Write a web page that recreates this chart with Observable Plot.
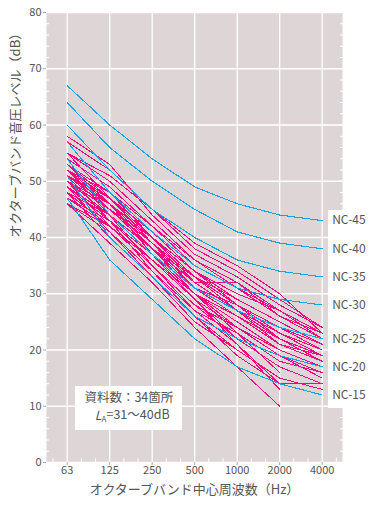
<!DOCTYPE html>
<html><head><meta charset="utf-8">
<script src="https://cdn.jsdelivr.net/npm/d3@7"></script>
<script src="https://cdn.jsdelivr.net/npm/@observablehq/plot@0.6"></script>
<style>
html,body{margin:0;padding:0;background:#fff}
#chart svg{display:block}
</style>
</head><body><div id="chart"></div>
<script>
// ---- data ----
const bands = ["63", "125", "250", "500", "1000", "2000", "4000"];
const ncNames = ["NC-15", "NC-20", "NC-25", "NC-30", "NC-35", "NC-40", "NC-45"];
const nc15 = [47, 36, 29, 22, 17, 14, 12];
const nc20 = [51, 40, 33, 26, 22, 19, 17];
const nc25 = [54, 44, 37, 31, 27, 24, 22];
const nc30 = [57, 48, 41, 35, 31, 29, 28];
const nc35 = [60, 52, 45, 40, 36, 34, 33];
const nc40 = [64, 56, 50, 45, 41, 39, 38];
const nc45 = [67, 60, 54, 49, 46, 44, 43];
// 34 measured spectra (dB at 63..4000 Hz; null = not plotted)
const measured = [
  [58, 53, 44, 37, 33, 28, 24],
  [57, 52, 45, 39, 35, 30, 23],
  [55, 51, 45, 38, 34, 29, 24],
  [55, 50, 43, 36, 32, 27, 22],
  [54, 49, 42, 36, 31, 26, 23],
  [53, 48, 42, 35, 31, 27, 22],
  [53, 47, 41, 34, 29, 25, 21],
  [52, 48, 40, 33, 28, 24, 20],
  [52, 47, 39, 33, 29, 25, 21],
  [52, 46, 40, 32, 32, 26, 22],
  [51, 46, 39, 32, 27, 22, 19],
  [51, 45, 38, 33, 28, 23, 19],
  [51, 47, 41, 34, 28, 22, 18],
  [50, 45, 39, 31, 26, 21, 18],
  [50, 44, 37, 31, 27, 23, 20],
  [50, 46, 38, 30, 25, 20, 17],
  [50, 45, 40, 33, 27, 21, 19],
  [49, 44, 37, 30, 24, 19, 16],
  [49, 43, 36, 30, 26, 22, 19],
  [48, 44, 38, 32, 27, 22, 18],
  [48, 42, 36, 29, 24, 20, 17],
  [47, 43, 37, 30, 23, 16, null],
  [47, 42, 35, 28, 24, 19, 15],
  [46, 42, 36, 29, 22, 17, 14],
  [46, 41, 34, 27, 21, 13, null],
  [53, 46, 37, 29, 21, 14, null],
  [52, 44, 35, 28, 22, 17, null],
  [49, 41, 33, 26, 20, 15, 13],
  [51, 43, 34, 26, 19, 14, 14],
  [50, 42, 35, 27, 23, 18, 16],
  [48, 40, 33, 25, 20, 15, null],
  [46, 39, 32, 24, 17, 10, null],
  [55, 47, 40, 34, 30, 27, 23],
  [52, 45, 38, 31, 28, 24, 21]
];
const yMajor = [0, 10, 20, 30, 40, 50, 60, 70, 80];
const noteLine1 = "資料数：34箇所";
const noteLine2 = "LA=31～40dB";
const xTitle = "オクターブバンド中心周波数（Hz）";
const yTitle = "オクターブバンド音圧レベル（dB）";

// ---- styles / layout ----
const CYAN = "#0ba4e6";
const MAGENTA = "#f0077f";
const BG = "#ddd5d6";
const TXT = "#555";
const FONT = "'Noto Sans CJK JP', 'Noto Sans', sans-serif";
const ncBox = {x1: 6.15, x2: 7.6, y1: 9.6, y2: 44.8};
const noteBox = {x1: 0.195, x2: 2.71, y1: 5.7, y2: 13.5};

// ---- tables ----
const bandIdx = bands.map((_, i) => i);
const ncCurves = [nc15, nc20, nc25, nc30, nc35, nc40, nc45];
const ncRows = ncCurves.flatMap((c, k) => c.map((v, i) => ({name: ncNames[k], i, v})));
const measRows = measured.flatMap((c, k) => c.map((v, i) => ({id: k, i, v})).filter(d => d.v != null));
const yMinor = d3.range(0, 81, 2).filter(v => v % 10 !== 0);
const xMinor = bandIdx.flatMap(i => [i - 1/3, i + 1/3]).filter(v => v > -0.48 && v < 6.47);

const chart = Plot.plot({
  width: 379, height: 508,
  marginLeft: 46, marginRight: 37, marginTop: 12, marginBottom: 46,
  style: {fontFamily: FONT, fontSize: "11px", color: TXT, background: "white", overflow: "visible"},
  x: {type: "linear", domain: [-0.487, 6.478]},
  y: {domain: [0, 80]},
  marks: [
    Plot.frame({fill: BG, stroke: "none"}),
    Plot.gridX(bandIdx, {stroke: "white", strokeOpacity: 1, strokeWidth: 1.3}),
    Plot.gridY(yMajor, {stroke: "white", strokeOpacity: 1, strokeWidth: 1.3}),
    Plot.axisY(yMinor, {anchor: "left", tickSize: -3, fill: "none", stroke: "white", label: null}),
    Plot.axisY(yMinor, {anchor: "right", tickSize: -3, fill: "none", stroke: "white", label: null}),
    Plot.axisY(yMajor, {anchor: "right", tickSize: -5, fill: "none", stroke: "white", label: null}),
    Plot.axisX(xMinor, {anchor: "bottom", tickSize: -4, fill: "none", stroke: "white", label: null}),
    Plot.line(measRows, {x: "i", y: "v", z: "id", stroke: MAGENTA, strokeWidth: 1, shapeRendering: "crispEdges"}),
    Plot.line(ncRows, {x: "i", y: "v", z: "name", stroke: CYAN, strokeWidth: 1.1, shapeRendering: "crispEdges"}),
    Plot.axisY(yMajor, {anchor: "left", tickSize: 3, tickPadding: 2, stroke: "#aaa", fill: TXT, label: null, fontSize: 11}),
    Plot.axisX(bandIdx, {anchor: "bottom", tickSize: 3, tickPadding: 1, stroke: "#aaa", fill: TXT, label: null, fontSize: 11, tickFormat: i => bands[i]}),
    Plot.rect([ncBox], {x1: "x1", x2: "x2", y1: "y1", y2: "y2", fill: "white"}),
    Plot.text(ncRows.filter(d => d.i === 6), {x: "i", y: "v", text: "name", dx: 10, textAnchor: "start", fontSize: 12, fill: TXT}),
    Plot.rect([noteBox], {x1: "x1", x2: "x2", y1: "y1", y2: "y2", fill: "white"}),
    Plot.text([noteLine1], {x: 1.45, y: 11.5, text: d => d, fontSize: 12.5, fill: TXT}),
    Plot.text([noteLine2], {x: 1.53, y: 8.2, text: d => d, fontSize: 12.5, fill: TXT}),
    Plot.text([xTitle], {frameAnchor: "bottom", dy: 31, text: d => d, fontSize: 13, fill: TXT}),
    Plot.text([yTitle], {frameAnchor: "left", dx: -31, rotate: -90, text: d => d, fontSize: 13, fill: TXT})
  ]
});

// subscript A in L_A
d3.select(chart).selectAll("text").filter(function() { return this.textContent === noteLine2; })
  .each(function() {
    const t = d3.select(this);
    t.text(null);
    t.append("tspan").attr("font-style", "italic").text("L");
    t.append("tspan").attr("font-size", 8).attr("dy", "0.25em").text("A");
    t.append("tspan").attr("dy", "-0.25em").text("=31～40dB");
  });

document.getElementById("chart").appendChild(chart);
</script>
</body></html>
